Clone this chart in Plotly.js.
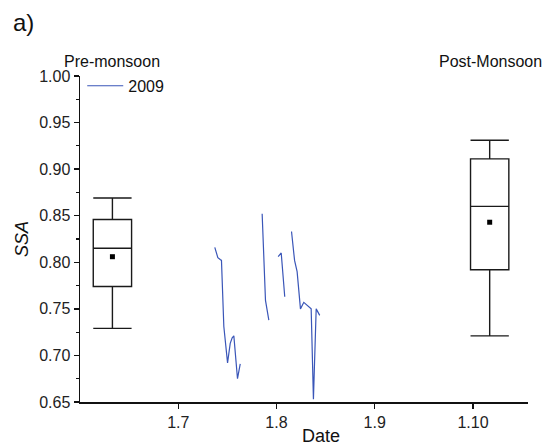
<!DOCTYPE html>
<html>
<head>
<meta charset="utf-8">
<script src="https://cdn.plot.ly/plotly-3.0.1.min.js"></script>
<style>html,body{margin:0;padding:0;background:#fff;}#chart{width:542px;height:445px;}</style>
</head>
<body>
<div id="chart"></div>
<script>
// ---- data ----
const tickDays = [7, 8, 9, 10];
const tickLabels = ['1.7', '1.8', '1.9', '1.10'];

const seriesName = '2009';
const seriesDays = [7.372, 7.403, 7.427, 7.440, 7.464, 7.502, 7.529, 7.549, 7.566, 7.603, 7.631, null,
                    7.854, 7.888, 7.922, null,
                    8.017, 8.048, 8.084, null,
                    8.153, 8.184, 8.210, 8.244, 8.278, 8.339, 8.353, 8.376, 8.404, 8.440];
const seriesSSA  = [0.816, 0.805, 0.803, 0.802, 0.731, 0.692, 0.713, 0.719, 0.721, 0.675, 0.691, null,
                    0.852, 0.759, 0.738, null,
                    0.806, 0.810, 0.763, null,
                    0.833, 0.802, 0.790, 0.750, 0.757, 0.751, 0.750, 0.653, 0.750, 0.743];

const boxLabels = ['Pre-monsoon', 'Post-Monsoon'];
const boxPos = [6.33, 10.17];
const boxLower = [0.729, 0.721];
const boxQ1 = [0.774, 0.792];
const boxMedian = [0.815, 0.860];
const boxQ3 = [0.846, 0.911];
const boxUpper = [0.869, 0.931];
const boxMean = [0.806, 0.843];

const FONT = 'Liberation Sans, Arial, sans-serif';

const traces = [];
for (let i = 0; i < boxPos.length; i++) {
  traces.push({
    type: 'box',
    x: [boxPos[i]],
    q1: [boxQ1[i]], median: [boxMedian[i]], q3: [boxQ3[i]],
    lowerfence: [boxLower[i]], upperfence: [boxUpper[i]],
    width: 0.39,
    whiskerwidth: 1,
    boxpoints: false,
    fillcolor: 'rgba(0,0,0,0)',
    line: {color: '#1a1a1a', width: 1.4},
    showlegend: false,
    hoverinfo: 'skip'
  });
}
traces.push({
  type: 'scatter', mode: 'markers',
  x: boxPos, y: boxMean,
  marker: {symbol: 'square', size: 5, color: '#000'},
  showlegend: false, hoverinfo: 'skip'
});
traces.push({
  type: 'scatter', mode: 'lines',
  name: seriesName,
  x: seriesDays, y: seriesSSA,
  connectgaps: false,
  line: {color: '#3a56b8', width: 1.2},
  showlegend: true
});

const layout = {
  width: 542, height: 445,
  margin: {l: 80, r: 14, t: 76, b: 43},
  paper_bgcolor: '#fff', plot_bgcolor: '#fff',
  font: {family: FONT, size: 16, color: '#111'},
  showlegend: true,
  legend: {x: 0.005, y: 1.022, xanchor: 'left', yanchor: 'top', bgcolor: 'rgba(0,0,0,0)',
           itemwidth: 36,
           font: {family: FONT, size: 16, color: '#111'}, borderwidth: 0},
  xaxis: {
    range: [6.0, 10.56],
    tickvals: tickDays, ticktext: tickLabels,
    showline: true, linecolor: '#111', linewidth: 1.5,
    ticks: 'outside', ticklen: 5, tickwidth: 1.5, tickcolor: '#111',
    showgrid: false, zeroline: false,
    tickfont: {family: FONT, size: 16, color: '#222'}
  },
  yaxis: {
    range: [0.65, 1.0],
    dtick: 0.05, tick0: 0.65, tickformat: '.2f',
    showline: true, linecolor: '#111', linewidth: 1.5,
    ticks: 'outside', ticklen: 5, tickwidth: 1.5, tickcolor: '#111',
    minor: {ticks: 'outside', ticklen: 3, tickwidth: 1.2, dtick: 0.025, tick0: 0.65, tickcolor: '#111', showgrid: false},
    showgrid: false, zeroline: false,
    tickfont: {family: FONT, size: 16, color: '#222'},
    title: {text: '<i>SSA</i>', font: {family: FONT, size: 18, color: '#111'}, standoff: 6}
  },
  annotations: [
    {text: 'a)', xref: 'paper', yref: 'paper', x: -0.155, y: 1.163, xanchor: 'left', yanchor: 'middle',
     showarrow: false, font: {family: FONT, size: 24, color: '#111'}},
    {text: boxLabels[0], xref: 'x', yref: 'paper', x: boxPos[0], y: 1.044, xanchor: 'center', yanchor: 'middle',
     showarrow: false, font: {family: FONT, size: 16, color: '#111'}},
    {text: boxLabels[1], xref: 'paper', yref: 'paper', x: 0.797, y: 1.044, xanchor: 'left', yanchor: 'middle',
     showarrow: false, font: {family: FONT, size: 16, color: '#111'}},
    {text: 'Date', xref: 'paper', yref: 'paper', x: 0.538, y: -0.105, xanchor: 'center', yanchor: 'middle',
     showarrow: false, font: {family: FONT, size: 18, color: '#111'}}
  ]
};

Plotly.newPlot('chart', traces, layout, {displayModeBar: false, staticPlot: true});
</script>
</body>
</html>
